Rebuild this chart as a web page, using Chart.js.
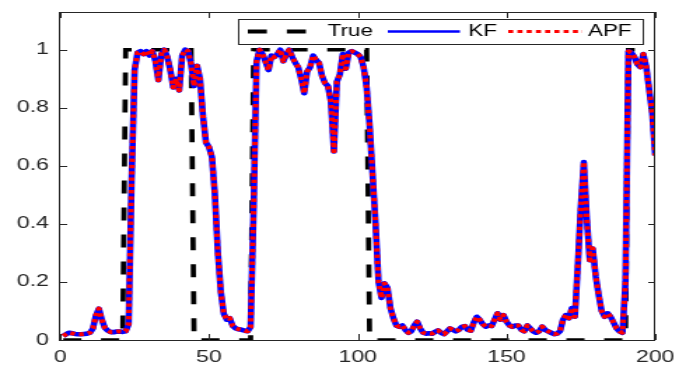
<!DOCTYPE html>
<html>
<head>
<meta charset="utf-8">
<title>True / KF / APF</title>
<script src="https://cdn.jsdelivr.net/npm/chart.js@4/dist/chart.umd.min.js"></script>
<style>
  html, body { margin: 0; padding: 0; background: #fff; }
  #chart { display: block; }
</style>
</head>
<body>
<!-- drawn at 485 wide and stretched to 679, like the (widened) original figure -->
<canvas id="chart" width="485" height="369" style="width:679px;height:369px"></canvas>
<script>
(function () {
  'use strict';

  // Time steps 1..200
  const timeSteps = Array.from({ length: 200 }, function (_, i) { return i + 1; });

  // True state (0/1), ten steps per row
  const trueState = [
    0, 0, 0, 0, 0, 0, 0, 0, 0, 0,
    0, 0, 0, 0, 0, 0, 0, 0, 0, 0,
    0, 1, 1, 1, 1, 1, 1, 1, 1, 1,
    1, 1, 1, 1, 1, 1, 1, 1, 1, 1,
    1, 1, 1, 1, 0, 0, 0, 0, 0, 0,
    0, 0, 0, 0, 0, 0, 0, 0, 0, 0,
    0, 0, 0, 0, 1, 1, 1, 1, 1, 1,
    1, 1, 1, 1, 1, 1, 1, 1, 1, 1,
    1, 1, 1, 1, 1, 1, 1, 1, 1, 1,
    1, 1, 1, 1, 1, 1, 1, 1, 1, 1,
    1, 1, 1, 0, 0, 0, 0, 0, 0, 0,
    0, 0, 0, 0, 0, 0, 0, 0, 0, 0,
    0, 0, 0, 0, 0, 0, 0, 0, 0, 0,
    0, 0, 0, 0, 0, 0, 0, 0, 0, 0,
    0, 0, 0, 0, 0, 0, 0, 0, 0, 0,
    0, 0, 0, 0, 0, 0, 0, 0, 0, 0,
    0, 0, 0, 0, 0, 0, 0, 0, 0, 0,
    0, 0, 0, 0, 0, 0, 0, 0, 0, 0,
    0, 0, 0, 0, 0, 0, 0, 0, 0, 0,
    1, 1, 1, 1, 1, 1, 1, 1, 1, 1
  ];

  // KF estimate
  const kfEst = [
    0.014, 0.020, 0.025, 0.023, 0.021, 0.020, 0.020, 0.021, 0.022, 0.025,
    0.040, 0.085, 0.108, 0.070, 0.042, 0.032, 0.027, 0.027, 0.029, 0.029,
    0.028, 0.030, 0.055, 0.550, 0.930, 0.990, 0.995, 0.985, 0.995, 0.980,
    0.995, 0.960, 0.895, 0.985, 1.000, 0.975, 0.930, 0.870, 0.900, 0.860,
    0.980, 1.000, 0.995, 0.950, 0.875, 0.945, 0.900, 0.770, 0.680, 0.665,
    0.630, 0.500, 0.300, 0.165, 0.090, 0.070, 0.075, 0.048, 0.040, 0.037,
    0.035, 0.032, 0.030, 0.045, 0.450, 0.960, 1.000, 0.985, 0.960, 0.930,
    0.980, 0.975, 0.985, 1.000, 0.960, 0.985, 1.000, 0.975, 0.955, 0.940,
    0.900, 0.850, 0.925, 0.940, 0.980, 0.965, 0.955, 0.910, 0.885, 0.875,
    0.820, 0.650, 0.890, 0.915, 0.985, 0.935, 0.990, 0.995, 0.990, 0.985,
    0.975, 0.940, 0.870, 0.740, 0.570, 0.400, 0.200, 0.145, 0.195, 0.180,
    0.110, 0.075, 0.050, 0.045, 0.050, 0.035, 0.025, 0.030, 0.050, 0.063,
    0.040, 0.025, 0.022, 0.023, 0.022, 0.028, 0.033, 0.025, 0.020, 0.030,
    0.040, 0.035, 0.030, 0.035, 0.045, 0.048, 0.035, 0.032, 0.060, 0.080,
    0.070, 0.055, 0.046, 0.050, 0.048, 0.070, 0.092, 0.070, 0.086, 0.063,
    0.050, 0.045, 0.050, 0.050, 0.035, 0.030, 0.050, 0.040, 0.030, 0.025,
    0.030, 0.046, 0.035, 0.030, 0.025, 0.020, 0.022, 0.030, 0.070, 0.086,
    0.075, 0.110, 0.080, 0.260, 0.460, 0.613, 0.420, 0.275, 0.315, 0.220,
    0.155, 0.100, 0.080, 0.092, 0.080, 0.060, 0.040, 0.030, 0.025, 0.200,
    0.995, 0.990, 0.975, 0.950, 0.940, 0.985, 0.940, 0.860, 0.780, 0.636
  ];

  // APF estimate (sits on top of the KF curve)
  const apfEst = [
    0.014, 0.020, 0.025, 0.023, 0.021, 0.020, 0.020, 0.021, 0.022, 0.025,
    0.040, 0.085, 0.108, 0.070, 0.042, 0.032, 0.027, 0.027, 0.029, 0.029,
    0.028, 0.030, 0.055, 0.550, 0.930, 0.990, 0.995, 0.985, 0.995, 0.980,
    0.995, 0.960, 0.895, 0.985, 1.000, 0.975, 0.930, 0.870, 0.900, 0.860,
    0.980, 1.000, 0.995, 0.950, 0.875, 0.945, 0.900, 0.770, 0.680, 0.665,
    0.630, 0.500, 0.300, 0.165, 0.090, 0.070, 0.075, 0.048, 0.040, 0.037,
    0.035, 0.032, 0.030, 0.045, 0.450, 0.960, 1.000, 0.985, 0.960, 0.930,
    0.980, 0.975, 0.985, 1.000, 0.960, 0.985, 1.000, 0.975, 0.955, 0.940,
    0.900, 0.850, 0.925, 0.940, 0.980, 0.965, 0.955, 0.910, 0.885, 0.875,
    0.820, 0.650, 0.890, 0.915, 0.985, 0.935, 0.990, 0.995, 0.990, 0.985,
    0.975, 0.940, 0.870, 0.740, 0.570, 0.400, 0.200, 0.145, 0.195, 0.180,
    0.110, 0.075, 0.050, 0.045, 0.050, 0.035, 0.025, 0.030, 0.050, 0.063,
    0.040, 0.025, 0.022, 0.023, 0.022, 0.028, 0.033, 0.025, 0.020, 0.030,
    0.040, 0.035, 0.030, 0.035, 0.045, 0.048, 0.035, 0.032, 0.060, 0.080,
    0.070, 0.055, 0.046, 0.050, 0.048, 0.070, 0.092, 0.070, 0.086, 0.063,
    0.050, 0.045, 0.050, 0.050, 0.035, 0.030, 0.050, 0.040, 0.030, 0.025,
    0.030, 0.046, 0.035, 0.030, 0.025, 0.020, 0.022, 0.030, 0.070, 0.086,
    0.075, 0.110, 0.080, 0.260, 0.460, 0.613, 0.420, 0.275, 0.315, 0.220,
    0.155, 0.100, 0.080, 0.092, 0.080, 0.060, 0.040, 0.030, 0.025, 0.200,
    0.995, 0.990, 0.975, 0.950, 0.940, 0.985, 0.940, 0.860, 0.780, 0.636
  ];

  // Axis ticks
  const xTicks = [0, 50, 100, 150, 200];
  const xTickLabels = ['0', '50', '100', '150', '200'];
  const yTicks = [0, 0.2, 0.4, 0.6, 0.8, 1];
  const yTickLabels = ['0', '0.2', '0.4', '0.6', '0.8', '1'];

  const COLORS = {
    truth: '#000000',
    kf: '#0000ff',
    apf: '#ff0000',
    axis: '#262626'
  };
  const FONT = "'Liberation Sans', Arial, Helvetica, sans-serif";

  /**
   * Legend in a white box inside the axes, MATLAB style.
   */
  const boxLegend = {
    id: 'boxLegend',
    afterDatasetsDraw: function (chart, args, opts) {
      const ctx = chart.ctx;
      const cy = opts.y + opts.h / 2;
      ctx.save();
      ctx.fillStyle = '#fff';
      ctx.fillRect(opts.x, opts.y, opts.w, opts.h);
      ctx.strokeStyle = COLORS.axis;
      ctx.lineWidth = 1;
      ctx.strokeRect(opts.x + 0.5, opts.y + 0.5, opts.w, opts.h);

      chart.data.datasets.forEach(function (ds, i) {
        const item = opts.items[i];
        ctx.beginPath();
        ctx.setLineDash(item.dash);
        ctx.lineWidth = item.width;
        ctx.strokeStyle = ds.borderColor;
        ctx.moveTo(item.x0, cy);
        ctx.lineTo(item.x1, cy);
        ctx.stroke();
        ctx.setLineDash([]);
        ctx.fillStyle = '#000';
        ctx.font = '16px ' + FONT;
        ctx.textBaseline = 'middle';
        ctx.textAlign = 'left';
        ctx.fillText(ds.label, item.tx, cy + 0.5);
      });
      ctx.restore();
    }
  };

  /**
   * Box around the axes with inward tick marks on all four sides.
   */
  const axesBox = {
    id: 'axesBox',
    afterDraw: function (chart) {
      const ctx = chart.ctx;
      const a = chart.chartArea;
      ctx.save();
      ctx.strokeStyle = COLORS.axis;
      ctx.lineWidth = 1;
      ctx.strokeRect(a.left - 0.5, a.top + 0.5, a.right - a.left, a.bottom - a.top);
      ctx.beginPath();
      chart.scales.x.ticks.forEach(function (t) {
        const px = Math.round(chart.scales.x.getPixelForValue(t.value)) + 0.5;
        ctx.moveTo(px, a.bottom);
        ctx.lineTo(px, a.bottom - 6);
        ctx.moveTo(px, a.top);
        ctx.lineTo(px, a.top + 6);
      });
      chart.scales.y.ticks.forEach(function (t) {
        const py = Math.round(chart.scales.y.getPixelForValue(t.value)) + 0.5;
        ctx.moveTo(a.left, py);
        ctx.lineTo(a.left + 5, py);
        ctx.moveTo(a.right, py);
        ctx.lineTo(a.right - 5, py);
      });
      ctx.stroke();
      ctx.restore();
    }
  };

  const ctx = document.getElementById('chart').getContext('2d');
  new Chart(ctx, {
    type: 'line',
    data: {
      labels: timeSteps,
      datasets: [{
        label: 'True',
        data: trueState,
        borderColor: COLORS.truth,
        borderWidth: 3.7,
        borderDash: [13, 14],
        pointRadius: 0,
        tension: 0,
        order: 3
      }, {
        label: 'KF',
        data: kfEst,
        borderColor: COLORS.kf,
        borderWidth: 4.6,
        borderJoinStyle: 'round',
        pointRadius: 0,
        tension: 0,
        order: 2
      }, {
        label: 'APF',
        data: apfEst,
        borderColor: COLORS.apf,
        borderWidth: 4,
        borderDash: [3.3, 3],
        borderJoinStyle: 'round',
        pointRadius: 0,
        tension: 0,
        order: 1
      }]
    },
    options: {
      responsive: false,
      animation: false,
      devicePixelRatio: 1,
      layout: {
        padding: { top: 12, right: 17, bottom: 0, left: 0 }
      },
      plugins: {
        legend: { display: false },
        tooltip: { enabled: false },
        boxLegend: {
          x: 170, y: 19, w: 289, h: 25,
          items: [
            { x0: 177, x1: 219.5, dash: [13.6, 14.3], width: 4, tx: 234 },
            { x0: 277, x1: 328.5, dash: [], width: 2.6, tx: 334.5 },
            { x0: 363, x1: 416, dash: [3.6, 3], width: 3, tx: 420 }
          ]
        }
      },
      scales: {
        x: {
          type: 'linear',
          min: 0,
          max: 200,
          grid: { display: false, drawTicks: false },
          border: { display: false },
          afterBuildTicks: function (scale) {
            scale.ticks = xTicks.map(function (v) { return { value: v }; });
          },
          afterFit: function (scale) {
            scale.height = 29;
            scale.paddingLeft = 0;
            scale.paddingRight = 0;
          },
          ticks: {
            padding: 8,
            maxRotation: 0,
            color: COLORS.axis,
            font: { family: FONT, size: 16.5 },
            callback: function (v, i) { return xTickLabels[i]; }
          }
        },
        y: {
          min: 0,
          max: 1.13,
          grid: { display: false, drawTicks: false },
          border: { display: false },
          afterBuildTicks: function (scale) {
            scale.ticks = yTicks.map(function (v) { return { value: v }; });
          },
          afterFit: function (scale) {
            scale.width = 43;
            scale.paddingTop = 0;
            scale.paddingBottom = 0;
          },
          ticks: {
            padding: 8,
            color: COLORS.axis,
            font: { family: FONT, size: 16.5 },
            callback: function (v, i) { return yTickLabels[i]; }
          }
        }
      }
    },
    plugins: [boxLegend, axesBox]
  });
})();
</script>
</body>
</html>
